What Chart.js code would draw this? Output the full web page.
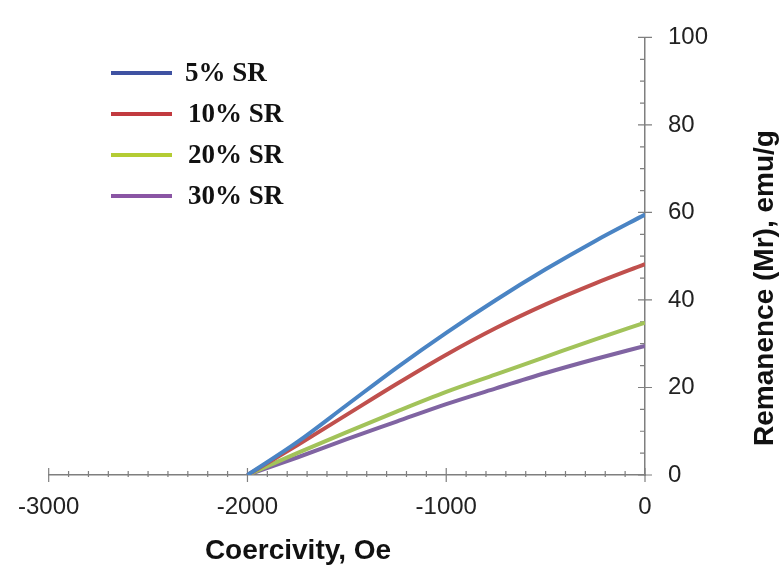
<!DOCTYPE html>
<html>
<head>
<meta charset="utf-8">
<script src="https://cdn.jsdelivr.net/npm/chart.js@4"></script>
<style>
  html, body { margin: 0; padding: 0; background: #fff; }
  canvas { display: block; }
</style>
</head>
<body>
<canvas id="remChart" width="781" height="568"></canvas>
<script>
// Coercivity (Oe) where each curve was sampled
var coercivity = [-2000, -1750, -1500, -1250, -1000, -750, -500, -250, 0];

// Remanence (Mr), emu/g
var sr5  = [0, 7.5, 16, 24.5, 32.5, 40, 47, 53.5, 59.5];
var sr10 = [0, 6.8, 13.8, 20.8, 27.5, 33.6, 39, 43.8, 48.2];
var sr20 = [0, 5, 9.8, 14.5, 19, 23, 27, 31, 34.8];
var sr30 = [0, 4, 8.2, 12.2, 16.2, 19.8, 23.3, 26.5, 29.5];

var seriesNames = ['5% SR', '10% SR', '20% SR', '30% SR'];
var lineColors = ['#4a84c4', '#c0504d', '#a2c35a', '#8064a2'];
var legendColors = ['#3f52a2', '#c23a3f', '#b4cc34', '#8a55a4'];

function toPoints(values) {
    return values.map(function (v, i) { return { x: coercivity[i], y: v }; });
}

var allSeries = [sr5, sr10, sr20, sr30];
var datasets = allSeries.map(function (vals, i) {
    return {
        label: seriesNames[i],
        data: toPoints(vals),
        borderColor: lineColors[i],
        legendColor: legendColors[i],
        borderWidth: 4,
        pointRadius: 0,
        fill: false,
        cubicInterpolationMode: 'monotone'
    };
});

// small tick marks: long ones at the labelled values, short ones between
var tickMarks = {
    id: 'tickMarks',
    beforeDatasetsDraw: function (chart) {
        var c = chart.ctx;
        var xs = chart.scales.x, ys = chart.scales.y;
        c.save();
        c.strokeStyle = '#7f7f7f';
        c.lineWidth = 1.2;
        c.beginPath();
        xs.ticks.forEach(function (t) {
            var px = xs.getPixelForValue(t.value);
            var major = t.value % 1000 === 0;
            c.moveTo(px, xs.top - (major ? 7 : 4));
            c.lineTo(px, xs.top + (major ? 7 : 2));
        });
        ys.ticks.forEach(function (t) {
            var py = ys.getPixelForValue(t.value);
            var major = t.value % 20 === 0;
            c.moveTo(ys.left - (major ? 7 : 5), py);
            c.lineTo(ys.left + (major ? 7 : 0), py);
        });
        c.stroke();
        c.restore();
    }
};

// axis titles and the legend block in the top left
var extras = {
    id: 'extras',
    afterDraw: function (chart) {
        var c = chart.ctx;
        c.save();
        c.fillStyle = '#111';
        c.font = 'bold 28px "Liberation Sans", Arial, sans-serif';
        c.textAlign = 'center';
        c.textBaseline = 'middle';
        c.fillText('Coercivity, Oe', 298, 551);

        c.translate(765, 288);
        c.rotate(-Math.PI / 2);
        c.fillText('Remanence (Mr), emu/g', 0, 0);
        c.restore();

        c.save();
        c.font = 'bold 27px "Liberation Serif", "Times New Roman", serif';
        c.textAlign = 'left';
        c.textBaseline = 'middle';
        chart.data.datasets.forEach(function (ds, i) {
            var y = 73 + i * 41;
            c.strokeStyle = ds.legendColor;
            c.lineWidth = 4;
            c.beginPath();
            c.moveTo(111, y);
            c.lineTo(172, y);
            c.stroke();
            c.fillStyle = '#111';
            c.fillText(ds.label, i === 0 ? 185 : 188, y + 1);
        });
        c.restore();
    }
};

var tickFont = { family: '"Liberation Sans", Arial, sans-serif', size: 24 };

new Chart(document.getElementById('remChart').getContext('2d'), {
    type: 'line',
    data: { datasets: datasets },
    options: {
        responsive: false,
        animation: false,
        devicePixelRatio: 1,
        layout: { padding: { left: 44, top: 17 } },
        plugins: {
            legend: { display: false },
            tooltip: { enabled: false }
        },
        scales: {
            x: {
                type: 'linear',
                min: -3000,
                max: 0,
                grid: { display: false, drawTicks: false },
                border: { display: true, color: '#7f7f7f', width: 1.5 },
                ticks: {
                    stepSize: 100,
                    autoSkip: false,
                    maxRotation: 0,
                    padding: 18,
                    color: '#222',
                    font: tickFont,
                    callback: function (v) { return v % 1000 === 0 ? String(v) : ''; }
                },
                afterFit: function (s) { s.height = 93; }
            },
            y: {
                type: 'linear',
                position: 'right',
                min: 0,
                max: 100,
                grid: { display: false, drawTicks: false },
                border: { display: true, color: '#7f7f7f', width: 1.5 },
                ticks: {
                    stepSize: 5,
                    autoSkip: false,
                    padding: 23,
                    color: '#222',
                    font: tickFont,
                    callback: function (v) { return v % 20 === 0 ? String(v) : ''; }
                },
                afterFit: function (s) { s.width = 136; }
            }
        }
    },
    plugins: [tickMarks, extras]
});
</script>
</body>
</html>
